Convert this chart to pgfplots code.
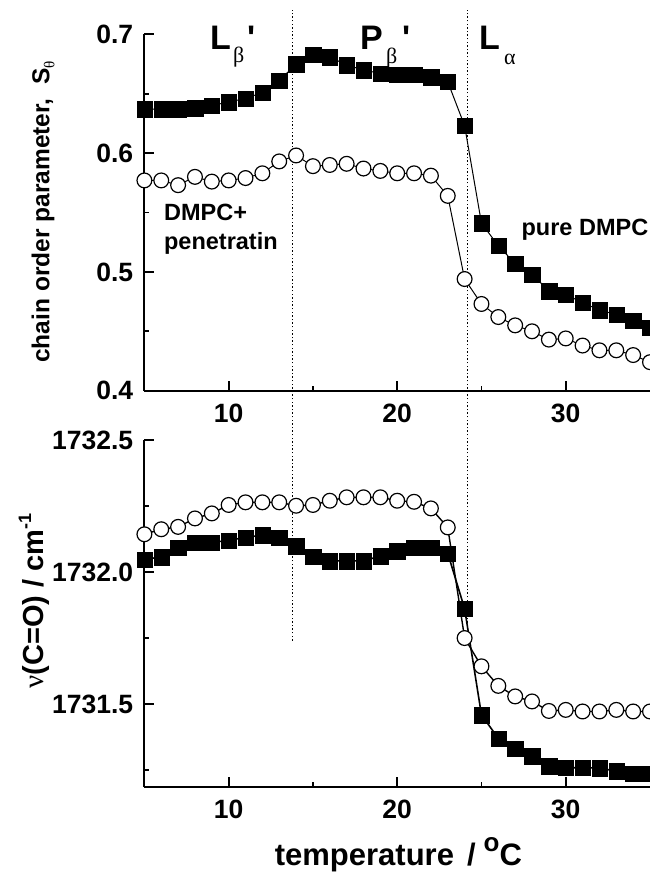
\documentclass[border=0pt]{standalone}
\usepackage{pgfplots}
\pgfplotsset{compat=1.18}
\usepackage{pgfplotstable}
\usepackage{fontspec}
\setmainfont{Liberation Sans}
\newfontfamily\lsans{Liberation Sans}
\newfontfamily\symb{Liberation Serif}

\pgfplotstableread{
x y
5 0.637
6 0.637
7 0.637
8 0.638
9 0.640
10 0.643
11 0.646
12 0.651
13 0.661
14 0.675
15 0.683
16 0.681
17 0.674
18 0.670
19 0.667
20 0.666
21 0.666
22 0.664
23 0.660
24 0.623
25 0.541
26 0.522
27 0.507
28 0.498
29 0.484
30 0.481
31 0.474
32 0.468
33 0.464
34 0.459
35 0.453
}\topsq

\pgfplotstableread{
x y
5 0.577
6 0.577
7 0.573
8 0.580
9 0.576
10 0.577
11 0.579
12 0.583
13 0.593
14 0.598
15 0.589
16 0.590
17 0.591
18 0.587
19 0.585
20 0.583
21 0.583
22 0.581
23 0.564
24 0.494
25 0.473
26 0.462
27 0.455
28 0.450
29 0.443
30 0.444
31 0.438
32 0.434
33 0.434
34 0.430
35 0.424
}\topci

\pgfplotstableread{
x y
5 1732.048
6 1732.057
7 1732.093
8 1732.112
9 1732.112
10 1732.120
11 1732.131
12 1732.140
13 1732.131
14 1732.099
15 1732.059
16 1732.042
17 1732.042
18 1732.042
19 1732.061
20 1732.080
21 1732.093
22 1732.093
23 1732.071
24 1731.861
25 1731.459
26 1731.370
27 1731.332
28 1731.303
29 1731.265
30 1731.259
31 1731.259
32 1731.258
33 1731.246
34 1731.237
35 1731.237
}\botsq

\pgfplotstableread{
x y
5 1732.143
6 1732.162
7 1732.171
8 1732.203
9 1732.222
10 1732.254
11 1732.264
12 1732.264
13 1732.264
14 1732.251
15 1732.254
16 1732.270
17 1732.283
18 1732.283
19 1732.283
20 1732.270
21 1732.266
22 1732.241
23 1732.169
24 1731.750
25 1731.643
26 1731.569
27 1731.529
28 1731.510
29 1731.474
30 1731.478
31 1731.472
32 1731.472
33 1731.478
34 1731.472
35 1731.472
}\botci

\pgfplotsset{
  myaxis/.style={
    scale only axis, width=505.6pt,
    xmin=5, xmax=35,
    axis lines=left,
    axis line style={-, line width=2.2pt, black},
    tick align=inside,
    major tick length=10pt,
    minor tick length=5pt,
    tick style={line width=1.8pt, black},
    xtick={10,20,30}, xticklabels={10,20,30},
    minor xtick={15,25},
    ticklabel style={font=\bfseries\fontsize{26.5}{26.5}\selectfont, inner sep=0pt},
    xticklabel style={anchor=north, yshift=-13pt},
    yticklabel style={anchor=east, xshift=-11pt},
  },
  sqplot/.style={black, mark=square*, mark size=7.7pt, mark options={fill=black, draw=black, line width=0.1pt}},
  ciplot/.style={black, mark=*, mark size=7.4pt, mark options={fill=white, draw=black, line width=1.2pt}},
}

\begin{document}
\begin{tikzpicture}
% bottom panel
\begin{axis}[myaxis,
  at={(0pt,0pt)}, anchor=south west,
  height=347pt,
  ymin=1731.186, ymax=1732.5,
  ytick={1731.5,1732.0,1732.5},
  yticklabels={1731.5,1732.0,1732.5},
  minor ytick={1731.25,1731.75,1732.25},
  clip=false,
]
\draw[line width=1.1pt, dash pattern=on 1.4pt off 2.2pt] (axis cs:13.8,1731.74) -- (axis cs:13.8,1734.13);
\draw[line width=1.1pt, dash pattern=on 1.4pt off 2.2pt] (axis cs:24.15,1731.74) -- (axis cs:24.15,1734.13);
\addplot[ciplot, line width=1.4pt] table[x=x,y=y] {\botci};
\addplot[sqplot, line width=1.6pt] table[x=x,y=y] {\botsq};
\end{axis}

% top panel
\begin{axis}[myaxis,
  at={(0pt,396.3pt)}, anchor=south west,
  height=356.4pt,
  ymin=0.4, ymax=0.7,
  ytick={0.4,0.5,0.6,0.7},
  yticklabels={0.4,0.5,0.6,0.7},
  minor ytick={0.45,0.55,0.65},
]
\addplot[ciplot, line width=1.0pt] table[x=x,y=y] {\topci};
\addplot[sqplot, line width=1.0pt] table[x=x,y=y] {\topsq};
\end{axis}

% axis labels
\node[rotate=90, font=\bfseries\fontsize{24.5}{24.5}\selectfont, inner sep=0pt] at (-101.4pt,575pt)
  {chain order parameter,\ \ S\raisebox{-5pt}{\fontsize{15}{15}\selectfont\symb\mdseries θ}};
\node[rotate=90, font=\bfseries\fontsize{29}{29}\selectfont, inner sep=0pt] at (-110.4pt,186pt)
  {{\symb\mdseries ν}(C=O) / cm\raisebox{12pt}{\fontsize{18}{18}\selectfont -1}};
\node[anchor=base, font=\bfseries\fontsize{31}{31}\selectfont, inner sep=0pt] at (254pt,-78pt)
  {temperature\hspace{13pt}/\hspace{8pt}\raisebox{14pt}{\fontsize{26}{26}\selectfont o}C};

% annotations
\node[anchor=base west, font=\bfseries\fontsize{23.5}{23.5}\selectfont, inner sep=0pt] at (19.5pt,566pt) {DMPC+};
\node[anchor=base west, font=\bfseries\fontsize{23.5}{23.5}\selectfont, inner sep=0pt] at (19.5pt,537pt) {penetratin};
\node[anchor=base west, font=\bfseries\fontsize{23.5}{23.5}\selectfont, inner sep=0pt] at (377pt,551pt) {pure DMPC};

% phase labels
\node[anchor=base west, font=\bfseries\fontsize{34}{34}\selectfont, inner sep=0pt] at (65.6pt,737pt) {L};
\node[anchor=base west, font=\symb\fontsize{22}{22}\selectfont, inner sep=0pt] at (88.6pt,724pt) {β};
\node[anchor=base west, font=\lsans\bfseries\fontsize{34}{34}\selectfont, inner sep=0pt] at (102.6pt,737pt) {'};
\node[anchor=base west, font=\bfseries\fontsize{34}{34}\selectfont, inner sep=0pt] at (215.6pt,737pt) {P};
\node[anchor=base west, font=\symb\fontsize{22}{22}\selectfont, inner sep=0pt] at (241.6pt,723pt) {β};
\node[anchor=base west, font=\lsans\bfseries\fontsize{34}{34}\selectfont, inner sep=0pt] at (257.6pt,737pt) {'};
\node[anchor=base west, font=\bfseries\fontsize{34}{34}\selectfont, inner sep=0pt] at (334.6pt,737pt) {L};
\node[anchor=base west, font=\symb\fontsize{22}{22}\selectfont, inner sep=0pt] at (359.6pt,722pt) {α};

\pgfresetboundingbox
\path[use as bounding box] (-144.4pt,-86pt) rectangle (505.6pt,787pt);
\end{tikzpicture}
\end{document}
